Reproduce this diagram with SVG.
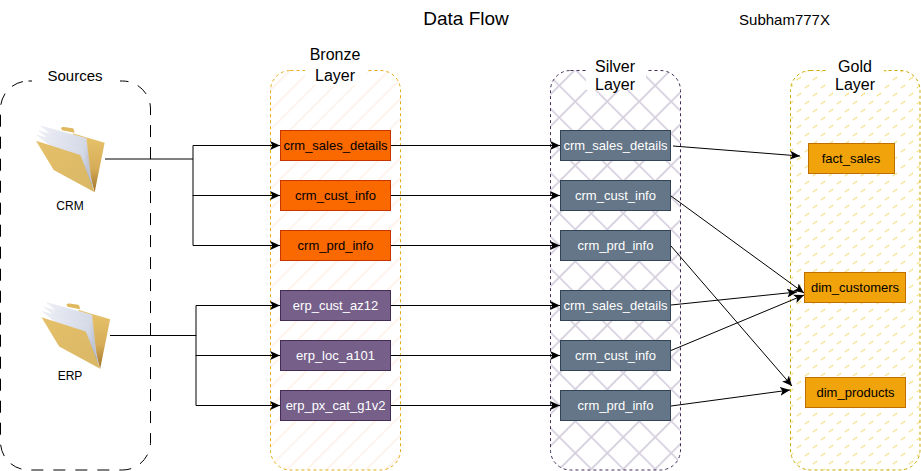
<svg xmlns="http://www.w3.org/2000/svg" width="921" height="471" viewBox="0 0 921 471">
<style>
text{font-family:"Liberation Sans",Arial,sans-serif;fill:#000;text-anchor:middle}
.t{font-size:15px}
.l{font-size:16px}
.n{font-size:13px}
.w{fill:#fff}
.c{fill:none;stroke:#000;stroke-width:1}
.lbg{fill:#fff}
.br{fill:#fa6800;stroke:#c73500}
.er{fill:#76608a;stroke:#432d57}
.si{fill:#647687;stroke:#314354}
.go{fill:#f0a30a;stroke:#bd7000}
</style>
<defs>
<pattern id="pBronze" width="14" height="14" patternUnits="userSpaceOnUse" patternTransform="rotate(-45)"><rect width="14" height="14" fill="#fff"/><line x1="0" y1="3" x2="14" y2="3" stroke="#feeee2" stroke-width="1.2"/></pattern>
<pattern id="pSilver" width="22.6" height="22.6" patternUnits="userSpaceOnUse" patternTransform="rotate(45 0 0)"><rect width="22.6" height="22.6" fill="#fff"/><path d="M0 4H22.6M4 0V22.6" stroke="#d6d0de" stroke-width="1.8" fill="none"/></pattern>
<pattern id="pGold" width="16" height="16" patternUnits="userSpaceOnUse" patternTransform="translate(4 1)"><rect width="16" height="16" fill="#fff"/><path d="M1 7L5 4M9 15L13 12" stroke="#f4dd6e" stroke-width="1.5" stroke-dasharray="1.2 .6"/></pattern>
<marker id="a" markerWidth="11" markerHeight="9" refX="10" refY="4.500" orient="auto" markerUnits="userSpaceOnUse"><path d="M0 0L10 4.500L0 9L2.400 4.500Z" fill="#000"/></marker>
<linearGradient id="fFront" x1="0" y1="0" x2="1" y2="1"><stop offset="0" stop-color="#e6c06a"/><stop offset="1" stop-color="#d8b765"/></linearGradient>
<linearGradient id="fBack" x1="0" y1="0" x2="0" y2="1"><stop offset="0" stop-color="#e8c56c"/><stop offset=".6" stop-color="#d6ac58"/><stop offset="1" stop-color="#a07228"/></linearGradient>
<linearGradient id="fPaper" x1="0" y1="0" x2="1" y2="1"><stop offset="0" stop-color="#eef0f7"/><stop offset=".6" stop-color="#d3d8e6"/><stop offset="1" stop-color="#9aa2b8"/></linearGradient>
<g id="folder">
<path d="M75 9Q78 5 84 6L110 10Q115 12 115 23L78 16Z" fill="#e0b95f"/>
<path d="M110 25L206 53L176 202L150 110Z" fill="url(#fBack)"/>
<path d="M15 3L151 40L165 165L60 40Z" fill="url(#fPaper)" stroke="#dde0ea" stroke-width="1"/>
<path d="M8 17L146 55L167 175L50 50Z" fill="url(#fPaper)" stroke="#dde0ea" stroke-width="1"/>
<path d="M3 30L140 70L172 190L40 60Z" fill="url(#fPaper)" stroke="#dde0ea" stroke-width="1"/>
<path d="M0 47L133 90L176 202L53 135Z" fill="url(#fFront)"/>
</g>
</defs>

<text x="466" y="25" style="font-size:19px">Data Flow</text>
<text x="784.500" y="25" class="t">Subham777X</text>

<g id="sources">
<rect x="0.500" y="81" width="150" height="389" rx="28" fill="#fff" stroke="#000" stroke-dasharray="12 10"/>
<rect x="32" y="68" width="88" height="24" class="lbg"/>
<text x="75" y="81" class="t">Sources</text>
</g>
<g id="bronze-layer">
<rect x="270.500" y="70.500" width="130" height="399.500" rx="20" fill="url(#pBronze)" stroke="#e3ab14" stroke-dasharray="3 3"/>
<rect x="305" y="45" width="62" height="40" class="lbg"/>
<text x="335" y="60" class="l">Bronze</text>
<text x="335" y="81" class="l">Layer</text>
</g>
<g id="silver-layer">
<rect x="550.500" y="70.500" width="130" height="399.500" rx="20" fill="url(#pSilver)" stroke="#432d57" stroke-dasharray="3 3"/>
<rect x="586" y="55" width="60" height="35" class="lbg"/>
<text x="615" y="72" class="l">Silver</text>
<text x="615" y="90" class="l">Layer</text>
</g>
<g id="gold-layer">
<rect x="790.500" y="70.500" width="129.500" height="399.500" rx="20" fill="url(#pGold)" stroke="#c9a800" stroke-dasharray="3 3"/>
<rect x="826" y="55" width="58" height="35" class="lbg"/>
<text x="855" y="72" class="l">Gold</text>
<text x="855" y="90" class="l">Layer</text>
</g>

<g id="crm-source">
<use href="#folder" transform="translate(36 125) scale(.3333)"/>
<text x="70" y="210" class="n" style="font-size:12px">CRM</text>
</g>
<g id="erp-source">
<use href="#folder" transform="translate(41.500 301.500) scale(.3333)"/>
<text x="70" y="380" class="n" style="font-size:12px">ERP</text>
</g>

<g id="connectors">
<path class="c" d="M105 159H193V145.500H280" marker-end="url(#a)"/>
<path class="c" d="M193 159V195.500H280" marker-end="url(#a)"/>
<path class="c" d="M193 195V245.500H280" marker-end="url(#a)"/>
<path class="c" d="M110 335.500H196V305.500H280" marker-end="url(#a)"/>
<path class="c" d="M196 335V355.500H280" marker-end="url(#a)"/>
<path class="c" d="M196 355V405.500H280" marker-end="url(#a)"/>
<path class="c" d="M391 145.500H560" marker-end="url(#a)"/>
<path class="c" d="M391 195.500H560" marker-end="url(#a)"/>
<path class="c" d="M391 245.500H560" marker-end="url(#a)"/>
<path class="c" d="M391 305.500H560" marker-end="url(#a)"/>
<path class="c" d="M391 355.500H560" marker-end="url(#a)"/>
<path class="c" d="M391 405.500H560" marker-end="url(#a)"/>
<path class="c" d="M673 146L800 156" marker-end="url(#a)"/>
<path class="c" d="M671 196L804 293" marker-end="url(#a)"/>
<path class="c" d="M671 246L792 386" marker-end="url(#a)"/>
<path class="c" d="M671 305L797 292" marker-end="url(#a)"/>
<path class="c" d="M665 353L804 295" marker-end="url(#a)"/>
<path class="c" d="M671 406L790 390" marker-end="url(#a)"/>
</g>

<g id="b1"><rect class="br" x="280.500" y="130.500" width="110" height="30"/><text x="335.500" y="150" class="n">crm_sales_details</text></g>
<g id="b2"><rect class="br" x="280.500" y="180.500" width="110" height="30"/><text x="335.500" y="200" class="n">crm_cust_info</text></g>
<g id="b3"><rect class="br" x="280.500" y="230.500" width="110" height="30"/><text x="335.500" y="250" class="n">crm_prd_info</text></g>
<g id="b4"><rect class="er" x="280.500" y="290.500" width="110" height="30"/><text x="335.500" y="310" class="n w">erp_cust_az12</text></g>
<g id="b5"><rect class="er" x="280.500" y="340.500" width="110" height="30"/><text x="335.500" y="360" class="n w">erp_loc_a101</text></g>
<g id="b6"><rect class="er" x="280.500" y="390.500" width="110" height="30"/><text x="335.500" y="410" class="n w">erp_px_cat_g1v2</text></g>

<g id="s1"><rect class="si" x="560.500" y="130.500" width="110" height="30"/><text x="615.500" y="150" class="n w">crm_sales_details</text></g>
<g id="s2"><rect class="si" x="560.500" y="180.500" width="110" height="30"/><text x="615.500" y="200" class="n w">crm_cust_info</text></g>
<g id="s3"><rect class="si" x="560.500" y="230.500" width="110" height="30"/><text x="615.500" y="250" class="n w">crm_prd_info</text></g>
<g id="s4"><rect class="si" x="560.500" y="290.500" width="110" height="30"/><text x="615.500" y="310" class="n w">crm_sales_details</text></g>
<g id="s5"><rect class="si" x="560.500" y="340.500" width="110" height="30"/><text x="615.500" y="360" class="n w">crm_cust_info</text></g>
<g id="s6"><rect class="si" x="560.500" y="390.500" width="110" height="30"/><text x="615.500" y="410" class="n w">crm_prd_info</text></g>

<g id="g1"><rect class="go" x="808.500" y="143.500" width="86" height="30"/><text x="851" y="163" class="n">fact_sales</text></g>
<g id="g2"><rect class="go" x="804.500" y="272.500" width="101" height="30"/><text x="855" y="292" class="n">dim_customers</text></g>
<g id="g3"><rect class="go" x="805.500" y="377.500" width="100" height="30"/><text x="855.500" y="397" class="n">dim_products</text></g>
</svg>
